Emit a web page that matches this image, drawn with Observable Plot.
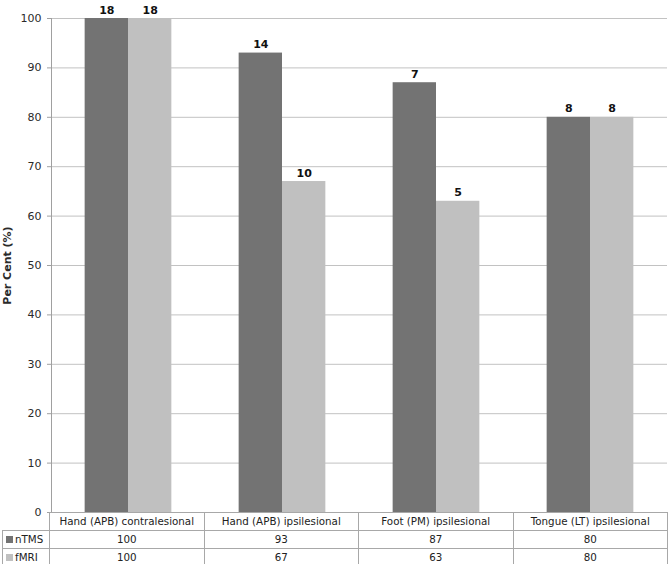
<!DOCTYPE html>
<html><head><meta charset="utf-8">
<script src="https://cdn.jsdelivr.net/npm/d3@7"></script>
<script src="https://cdn.jsdelivr.net/npm/@observablehq/plot@0.6"></script>
<style>
body{margin:0;background:#fff;font-family:"DejaVu Sans",Verdana,sans-serif;}
#wrap{position:relative;width:670px;height:564px;overflow:hidden;}
#wrap svg{position:absolute;left:0;top:0;}
table{position:absolute;left:2px;top:512px;border-collapse:collapse;font-size:10.3px;color:#222;table-layout:fixed;font-family:"DejaVu Sans",Verdana,sans-serif;}
td{border:1px solid #a8a8a8;height:17px;padding:0;text-align:center;white-space:nowrap;line-height:17px;}
td.leg{text-align:left;padding-left:3px;}
td.corner{border-top:none;border-left:none;}
.sw{display:inline-block;width:7px;height:7px;margin-right:2px;vertical-align:0px;}
</style></head><body><div id="wrap"></div>
<script>
const categories = ["Hand (APB) contralesional","Hand (APB) ipsilesional","Foot (PM) ipsilesional","Tongue (LT) ipsilesional"];
const series = ["nTMS","fMRI"];
const nTMS = [100,93,87,80];
const fMRI = [100,67,63,80];
const nTMSCount = [18,14,7,8];
const fMRICount = [18,10,5,8];
const yTicks = [0,10,20,30,40,50,60,70,80,90,100];
const colors = ["#737373","#c0c0c0"];

const values = {nTMS, fMRI};
const counts = {nTMS: nTMSCount, fMRI: fMRICount};
const data = [];
categories.forEach((c,i)=>series.forEach(s=>data.push({category:c, series:s, value:values[s][i], count:counts[s][i]})));

const chart = Plot.plot({
  width: 670, height: 530,
  marginTop: 18, marginBottom: 18, marginLeft: 50, marginRight: 2,
  style: {fontFamily: '"DejaVu Sans", Verdana, sans-serif', fontSize: "11px", color: "#222", background: "transparent"},
  fx: {domain: categories, axis: null, padding: 0},
  x: {domain: series, axis: null, paddingInner: 0, paddingOuter: 0.776, round: false},
  y: {domain: [0,100]},
  color: {domain: series, range: colors},
  marks: [
    Plot.gridY(yTicks, {stroke: "#c2c2c2", strokeOpacity: 1, strokeWidth: 1}),
    Plot.axisY(yTicks, {tickSize: 4, tickPadding: 6, stroke: "#a0a0a0", fill: "#2a2a2a", fontSize: 11,
      label: "Per Cent (%)", labelAnchor: "center", labelArrow: false, labelOffset: 48}),
    Plot.barY(data, {fx: "category", x: "series", y: "value", fill: "series"}),
    Plot.text(data, {fx: "category", x: "series", y: "value", text: "count", lineAnchor: "bottom", dy: -5,
      fontWeight: "bold", fontSize: 11, fill: "#111"}),
    Plot.frame({anchor: "left", facetAnchor: "left", stroke: "#a0a0a0"})
  ]
});
const wrap = document.getElementById("wrap");
wrap.appendChild(chart);
chart.querySelectorAll("g[aria-label='y-axis label'] text").forEach(t=>{t.setAttribute("font-weight","bold");});

// data table below
const table = document.createElement("table");
const cg = document.createElement("colgroup");
[47,154.5,154.5,154.5,154.5].forEach(w=>{const col=document.createElement("col");col.style.width=w+"px";cg.appendChild(col);});
table.appendChild(cg);
const hr = table.insertRow();
const corner = hr.insertCell(); corner.className="corner";
categories.forEach(c=>{hr.insertCell().textContent=c;});
series.forEach((s,si)=>{
  const r = table.insertRow();
  const lc = r.insertCell(); lc.className="leg";
  lc.innerHTML = `<span class="sw" style="background:${colors[si]}"></span>${s}`;
  values[s].forEach(v=>{r.insertCell().textContent=v;});
});
wrap.appendChild(table);
</script></body></html>
